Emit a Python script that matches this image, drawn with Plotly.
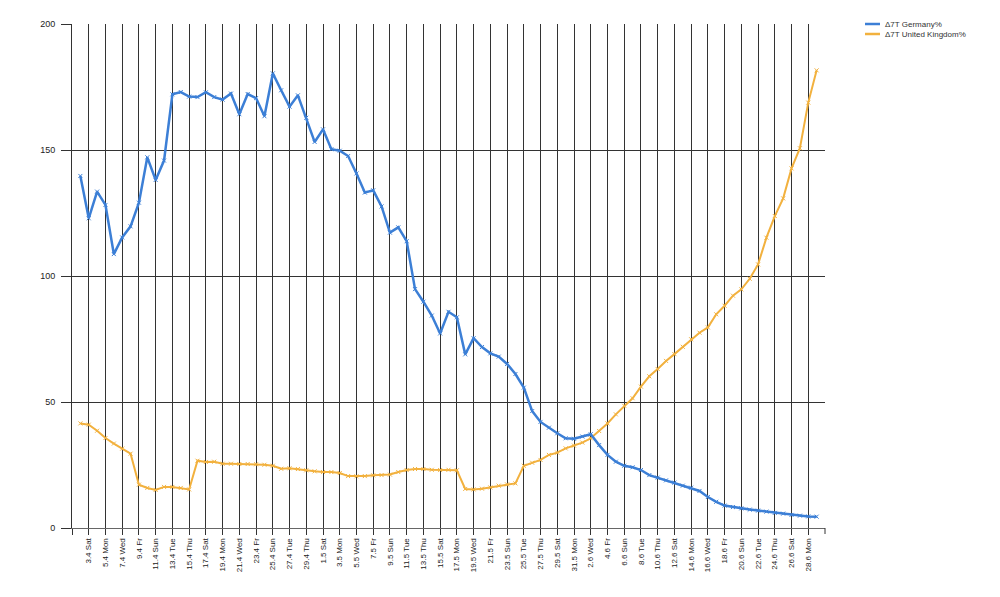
import plotly.graph_objects as go
import pandas as pd

# Categories: daily dates 2.4.2021 .. 29.6.2021
dates = pd.date_range("2021-04-02", "2021-06-29", freq="D")

germany = [139.7, 122.9, 133.5, 128.2, 108.7, 115.3, 119.7, 129.1, 147.1, 138.1,
           145.8, 172.1, 173.0, 171.2, 171.0, 172.9, 171.0, 170.0, 172.4, 164.2,
           172.2, 170.6, 163.4, 180.4, 173.7, 167.2, 171.7, 162.8, 153.2, 158.2,
           150.3, 149.7, 147.6, 140.7, 133.1, 134.0, 127.6, 117.2, 119.3, 113.8,
           94.8, 89.8, 84.3, 77.2, 85.8, 83.6, 68.9, 75.3, 71.8, 69.3,
           68.0, 65.1, 61.1, 55.7, 46.4, 42.1, 39.8, 37.6, 35.6, 35.4,
           36.3, 37.2, 32.9, 29.0, 26.3, 24.7, 24.1, 23.0, 21.0, 20.0,
           18.9, 18.0, 16.8, 16.0, 14.7, 12.3, 10.4, 8.9, 8.3, 7.8,
           7.3, 6.9, 6.5, 6.0, 5.7, 5.2, 4.9, 4.6, 4.5]

uk = [41.5, 41.0, 38.6, 35.7, 33.5, 31.5, 29.5, 17.2, 15.9, 15.1,
      16.3, 16.3, 15.9, 15.3, 26.7, 26.2, 26.3, 25.5, 25.5, 25.4,
      25.4, 25.3, 25.1, 24.7, 23.5, 23.7, 23.4, 22.9, 22.5, 22.2,
      22.2, 21.8, 20.6, 20.5, 20.6, 20.9, 21.0, 21.2, 22.2, 23.0,
      23.4, 23.4, 23.1, 23.0, 23.1, 22.9, 15.5, 15.3, 15.6, 16.1,
      16.8, 17.3, 17.7, 24.7, 25.9, 27.0, 29.0, 29.9, 31.6, 32.7,
      33.9, 35.6, 38.5, 41.5, 45.1, 48.5, 51.5, 56.1, 60.2, 63.1,
      66.3, 69.0, 71.9, 74.9, 77.5, 79.6, 84.8, 88.2, 92.2, 94.7,
      98.9, 104.6, 115.2, 123.8, 130.8, 142.7, 150.7, 168.8, 181.6]

tick_dates = pd.date_range("2021-04-01", "2021-06-28", freq="2D")
tick_labels = ["", "3.4 Sat", "5.4 Mon", "7.4 Wed", "9.4 Fr", "11.4 Sun", "13.4 Tue",
               "15.4 Thu", "17.4 Sat", "19.4 Mon", "21.4 Wed", "23.4 Fr", "25.4 Sun",
               "27.4 Tue", "29.4 Thu", "1.5 Sat", "3.5 Mon", "5.5 Wed", "7.5 Fr",
               "9.5 Sun", "11.5 Tue", "13.5 Thu", "15.5 Sat", "17.5 Mon", "19.5 Wed",
               "21.5 Fr", "23.5 Sun", "25.5 Tue", "27.5 Thu", "29.5 Sat", "31.5 Mon",
               "2.6 Wed", "4.6 Fr", "6.6 Sun", "8.6 Tue", "10.6 Thu", "12.6 Sat",
               "14.6 Mon", "16.6 Wed", "18.6 Fr", "20.6 Sun", "22.6 Tue", "24.6 Thu",
               "26.6 Sat", "28.6 Mon"]

y_ticks = [0, 50, 100, 150, 200]

series_names = ["\u03947T Germany%", "\u03947T United Kingdom%"]
colors = ["#3c7fd6", "#f2b13e"]

fig = go.Figure()
fig.add_trace(go.Scatter(
    x=dates, y=uk, mode="lines+markers", name=series_names[1],
    line=dict(color=colors[1], width=2),
    marker=dict(symbol="x-thin", size=4, line=dict(color=colors[1], width=1)),
    showlegend=False))
fig.add_trace(go.Scatter(
    x=dates, y=germany, mode="lines+markers", name=series_names[0],
    line=dict(color=colors[0], width=2.5),
    marker=dict(symbol="x-thin", size=4, line=dict(color=colors[0], width=1)),
    showlegend=False))

font_family = "Liberation Sans, Arial, sans-serif"

fig.update_layout(
    width=1000, height=597,
    margin=dict(l=64, r=183, t=16, b=77, pad=0),
    paper_bgcolor="white", plot_bgcolor="white",
    font=dict(family=font_family, size=9, color="#222222"),
    xaxis=dict(
        type="date",
        range=["2021-04-01", "2021-06-30"],
        tickmode="array", tickvals=list(tick_dates), ticktext=tick_labels,
        tickangle=-90, tickfont=dict(size=8, color="#222222"),
        showgrid=True, gridcolor="#333333", gridwidth=1,
        showline=True, linecolor="#666666", linewidth=1,
        ticks="outside", ticklen=6, tickcolor="#333333",
        zeroline=False,
    ),
    yaxis=dict(
        range=[0, 200],
        tickmode="array", tickvals=y_ticks,
        tickfont=dict(size=9, color="#222222"),
        showgrid=True, gridcolor="#333333", gridwidth=1,
        showline=True, linecolor="#333333", linewidth=1,
        ticks="outside", ticklen=10, tickcolor="#333333",
        ticklabelstandoff=4,
        zeroline=False,
    ),
)

# end tick of the x axis (below the axis only)
fig.add_shape(type="line", xref="paper", yref="paper", x0=1, x1=1,
              y0=0, y1=-6 / 504, line=dict(color="#333333", width=1))

# manual legend (top right)
legend_rows = [(series_names[0], colors[0], 24), (series_names[1], colors[1], 34)]
for name, col, ypx in legend_rows:
    yp = 1 - (ypx - 24) / 504
    fig.add_shape(type="line", xref="paper", yref="paper",
                  x0=(865 - 72) / 753, x1=(880 - 72) / 753, y0=yp, y1=yp,
                  line=dict(color=col, width=2.5))
    fig.add_annotation(xref="paper", yref="paper", x=(883 - 72) / 753, y=yp,
                       text=name, showarrow=False, xanchor="left", yanchor="middle",
                       font=dict(size=8, color="#333333", family=font_family))

fig.write_html("out.html")
